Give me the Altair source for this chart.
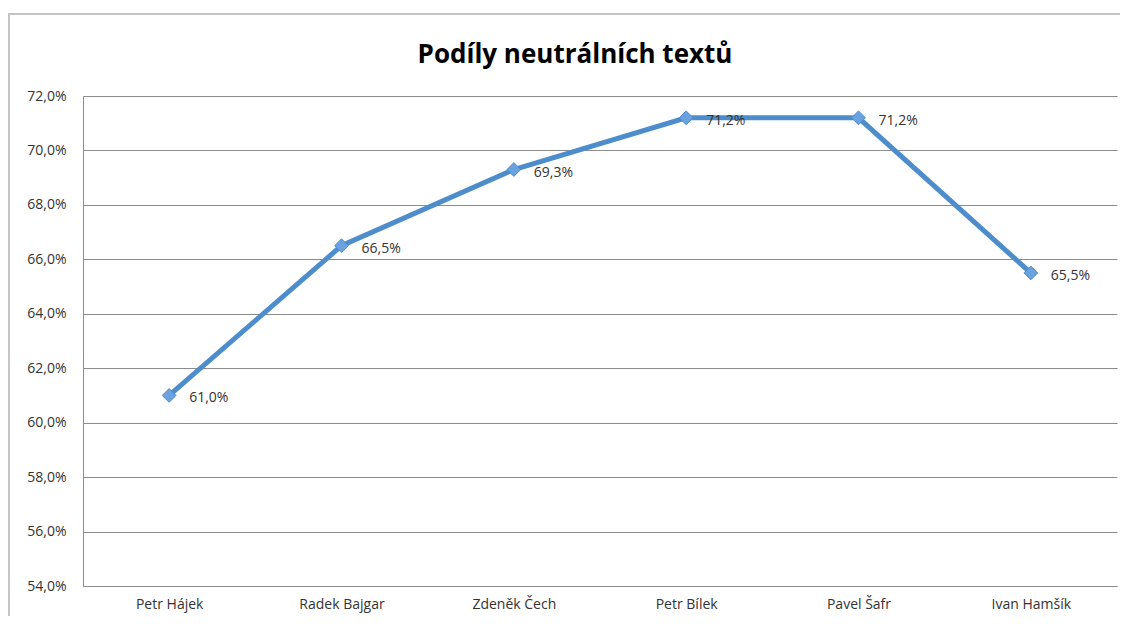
import altair as alt
import pandas as pd

names = ["Petr Hájek", "Radek Bajgar", "Zdeněk Čech", "Petr Bílek", "Pavel Šafr", "Ivan Hamšík"]
values = [61.0, 66.5, 69.3, 71.2, 71.2, 65.5]
labels = ["61,0%", "66,5%", "69,3%", "71,2%", "71,2%", "65,5%"]
y_ticks = [54, 56, 58, 60, 62, 64, 66, 68, 70, 72]
title_text = "Podíly neutrálních textů"

df = pd.DataFrame({"name": names, "value": values, "label": labels})

FONT = "Open Sans"
LBL = "#333333"

x = alt.X("name:N", sort=names, title=None,
          scale=alt.Scale(type="point", padding=0.5),
          axis=alt.Axis(labelAngle=0, ticks=False, domain=True, domainColor="#8c8c8c",
                        labelFont=FONT, labelFontSize=14, labelColor=LBL,
                        labelPadding=11, grid=False))
y = alt.Y("value:Q", title=None,
          scale=alt.Scale(domain=[54, 72], nice=False, zero=False),
          axis=alt.Axis(values=y_ticks, ticks=False, domainColor="#8c8c8c",
                        gridColor="#8c8c8c", gridWidth=1,
                        labelExpr="replace(format(datum.value, '.1f'), '.', ',') + '%'",
                        labelFont=FONT, labelFontSize=14, labelColor=LBL,
                        labelPadding=17))

base = alt.Chart(df)

line = base.mark_line(color="#4d8dcc", strokeWidth=5).encode(x=x, y=y)
points = base.mark_point(shape="diamond", filled=True, size=190, color="#6aa2e0",
                         stroke="#4d8dcc", strokeWidth=1, opacity=1).encode(x=x, y=y)
text = base.mark_text(align="left", baseline="middle", dx=20, dy=3,
                      font=FONT, fontSize=14, color=LBL).encode(x=x, y=y, text="label:N")

one = pd.DataFrame({"t": [title_text]})
title = alt.Chart(one).mark_text(font=FONT, fontSize=26, fontWeight="bold", color="#000000",
                                 align="center", baseline="middle").encode(
    x=alt.value(492), y=alt.value(-41), text="t:N")

frame_top = alt.Chart(one).mark_rule(color="#c4c4c4", strokeWidth=2).encode(
    x=alt.value(-75), x2=alt.value(1045), y=alt.value(-82))
frame_left = alt.Chart(one).mark_rule(color="#c4c4c4", strokeWidth=2).encode(
    x=alt.value(-74), y=alt.value(-82), y2=alt.value(540))

chart = alt.layer(frame_top, frame_left, line, points, text, title).properties(
    width=1034, height=490,
    autosize=alt.AutoSizeParams(type="none"),
    padding={"left": 75, "top": 88, "right": 3, "bottom": 30},
).configure_view(stroke=None)

chart.save("out.html", embed_options={"renderer": "svg", "actions": False})
